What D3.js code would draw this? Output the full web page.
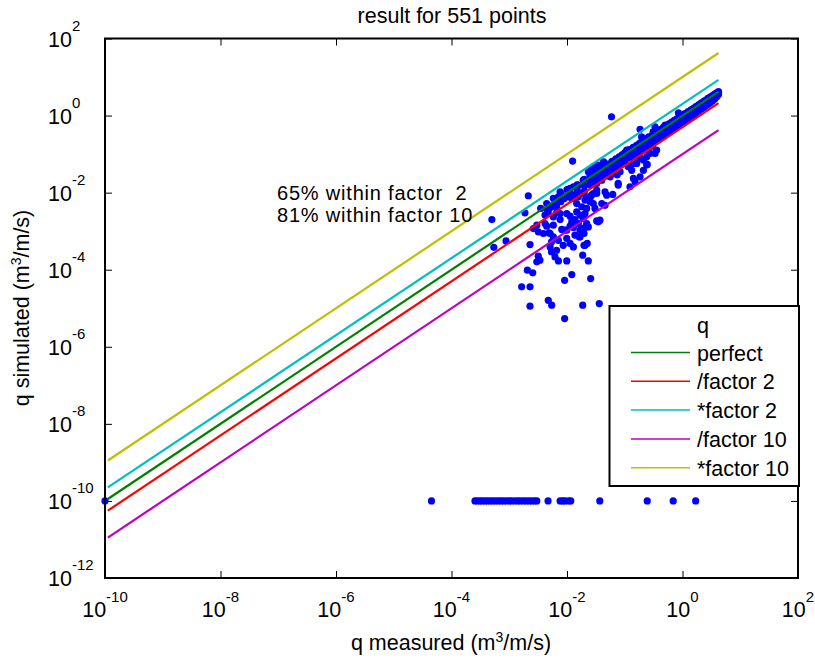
<!DOCTYPE html>
<html><head><meta charset="utf-8">
<script src="https://cdn.jsdelivr.net/npm/d3@7"></script>
<style>
body{margin:0;background:#fff}
svg text{font-family:"Liberation Sans",Arial,sans-serif;fill:#000}
</style>
</head><body>
<svg id="chart" width="815" height="662"></svg>
<script>
// ---------- data ----------
const titleText = "result for 551 points";
const xTicks = [1e-10, 1e-8, 1e-6, 1e-4, 1e-2, 1e0, 1e2];
const xTickExp = ["-10", "-8", "-6", "-4", "-2", "0", "2"];
const yTicks = [1e-12, 1e-10, 1e-8, 1e-6, 1e-4, 1e-2, 1e0, 1e2];
const yTickExp = ["-12", "-10", "-8", "-6", "-4", "-2", "0", "2"];

const seriesNames = ["perfect", "/factor 2", "*factor 2", "/factor 10", "*factor 10"];
const seriesFactors = [1, 0.5, 2, 0.1, 10];
const seriesColors = ["#008000", "#ff0000", "#00bfbf", "#bf00bf", "#bfbf00"];
const lineRange = [1.12e-10, 4.2];

// dense band of points close to the 1:1 line
const bandMeasured = [
 1.0e-2,1.0e-2, 1.2e-2,1.2e-2, 1.5e-2,1.5e-2,1.5e-2, 2.0e-2,2.0e-2,2.0e-2, 2.5e-2,2.5e-2,2.5e-2,
 3.0e-2,3.0e-2,3.0e-2,3.0e-2, 3.5e-2,3.5e-2,3.5e-2, 4.0e-2,4.0e-2,4.0e-2,4.0e-2,
 5.0e-2,5.0e-2,5.0e-2,5.0e-2,5.0e-2, 6.0e-2,6.0e-2,6.0e-2,6.0e-2, 7.0e-2,7.0e-2,7.0e-2,7.0e-2,7.0e-2,
 8.0e-2,8.0e-2,8.0e-2,8.0e-2, 9.0e-2,9.0e-2,9.0e-2,9.0e-2,
 0.10,0.10,0.10,0.10, 0.12,0.12,0.12,0.12, 0.14,0.14,0.14,0.14, 0.16,0.16,0.16,0.16,
 0.18,0.18,0.18,0.18, 0.20,0.20,0.20,0.20, 0.23,0.23,0.23,0.23, 0.26,0.26,0.26,0.26,
 0.30,0.30,0.30,0.30,0.30, 0.34,0.34,0.34,0.34, 0.38,0.38,0.38,0.38, 0.42,0.42,0.42,0.42,
 0.47,0.47,0.47,0.47, 0.52,0.52,0.52,0.52, 0.58,0.58,0.58,0.58, 0.65,0.65,0.65,0.65,
 0.72,0.72,0.72,0.72, 0.80,0.80,0.80,0.80, 0.90,0.90,0.90,0.90,
 1.0,1.0,1.0,1.0, 1.1,1.1,1.1,1.1, 1.25,1.25,1.25,1.25, 1.4,1.4,1.4,1.4, 1.55,1.55,1.55,1.55,
 1.7,1.7,1.7,1.7, 1.9,1.9,1.9,1.9, 2.1,2.1,2.1,2.1, 2.3,2.3,2.3,2.3, 2.5,2.5,2.5,2.5,
 2.75,2.75,2.75,2.75, 3.0,3.0,3.0,3.0, 3.3,3.3,3.3,3.3, 3.6,3.6,3.6,3.6, 3.9,3.9,3.9, 4.2,4.2,4.2,
 5e-3, 6e-3, 7e-3, 8e-3, 9e-3
];
const bandSimulated = [
 8e-3,1.2e-2, 9e-3,7e-3, 1.2e-2,1.6e-2,9e-3, 1.5e-2,2.2e-2,1.1e-2, 2.0e-2,1.6e-2,2.8e-2,
 2.2e-2,3.2e-2,1.7e-2,2.6e-2, 3.0e-2,2.2e-2,4.0e-2, 3.2e-2,2.6e-2,4.4e-2,2.1e-2,
 4.0e-2,3.0e-2,5.5e-2,2.7e-2,4.6e-2, 5.0e-2,4.0e-2,6.5e-2,3.2e-2, 6.0e-2,4.5e-2,7.5e-2,3.8e-2,5.3e-2,
 6.5e-2,5.0e-2,8.5e-2,7.2e-2, 7.5e-2,5.5e-2,9.5e-2,6.5e-2,
 8.5e-2,6.5e-2,0.11,0.075, 0.10,0.08,0.13,0.09, 0.12,0.09,0.15,0.105, 0.13,0.10,0.17,0.14,
 0.15,0.12,0.19,0.10, 0.17,0.13,0.22,0.15, 0.19,0.15,0.25,0.13, 0.22,0.17,0.28,0.20,
 0.25,0.19,0.31,0.22,0.16, 0.29,0.22,0.36,0.25, 0.32,0.25,0.40,0.28, 0.36,0.27,0.44,0.31,
 0.40,0.30,0.50,0.35, 0.45,0.34,0.55,0.39, 0.50,0.38,0.60,0.43, 0.56,0.43,0.68,0.49,
 0.62,0.48,0.75,0.54, 0.70,0.53,0.82,0.60, 0.78,0.60,0.93,0.68,
 0.88,0.68,1.02,0.75, 0.96,0.74,1.12,0.84, 1.1,0.85,1.27,0.95, 1.22,0.95,1.40,1.06, 1.36,1.05,1.55,1.18,
 1.5,1.15,1.7,1.3, 1.68,1.3,1.9,1.45, 1.85,1.45,2.1,1.6, 2.05,1.6,2.3,1.8, 2.25,1.75,2.5,1.95,
 2.5,1.95,2.8,2.2, 2.75,2.15,3.0,2.45, 3.0,2.4,3.3,2.7, 3.3,2.7,3.6,3.1, 3.6,3.1,3.9, 3.9,3.5,4.2,
 4e-3, 5e-3, 6e-3, 9e-3, 7e-3
];

// scattered points away from the band
const spreadMeasured = [
 5.9e-2, 1.25e-2, 2.14e-3, 5.0e-4, 5.4e-4, 8.8e-4, 1.87e-3, 2.29e-3, 3.18e-3, 3.4e-3,
 3.0e-3, 2.06e-3, 2.55e-3, 1.64e-3, 2.29e-3, 2.29e-3, 4.74e-3, 5.43e-3, 9.1e-3, 1.87e-2,
 3.62e-2, 2.57e-2, 1.21e-2, 9.1e-3, 9.9e-3, 7.1e-3, 6.2e-3, 1.87e-2, 2.34e-2, 2.24e-2,
 1.97e-2, 1.68e-2, 8.6e-3, 1.13e-2, 5.1e-3, 5.4e-3, 6.6e-3, 8.1e-3, 9.9e-3, 1.29e-2,
 1.68e-2, 1.97e-2, 3.27e-2, 3.72e-2, 3.9e-3, 4.9e-3, 5.8e-3, 5.4e-3, 4.16e-3, 4.45e-3,
 3.0e-3, 2.61e-3, 3.18e-3, 4.16e-3, 5.8e-3, 6.6e-3, 7.6e-3, 5.4e-3, 4.57e-3, 3.5e-3,
 7.1e-3, 7.8e-3, 1.13e-2, 1.21e-2, 1.37e-2, 1.57e-2, 9.9e-3, 1.13e-2, 1.47e-2, 1.68e-2,
 1.91e-2, 2.05e-2, 1.8e-2, 2.19e-2, 1.47e-2, 2.5e-2, 2.67e-2, 3.27e-2, 2.85e-2, 1.13e-2,
 1.29e-2, 1.57e-2, 1.91e-2, 2.05e-2, 4.0e-2, 4.55e-2, 3.48e-2, 4.86e-2, 2.19e-2, 2.34e-2,
 2.05e-2, 2.34e-2, 2.85e-2, 3.48e-2, 4.26e-2, 4.86e-2, 5.9e-2, 3.72e-2, 5.6e-2, 6.8e-2,
 8.3e-2, 7.7e-2, 9.4e-2, 0.115, 0.141, 0.132, 0.161, 0.184, 0.21, 0.24,
 0.274, 0.334, 0.184, 0.151, 0.123, 1.57e-2, 1.91e-2, 1.29e-2, 1.68e-2, 2.19e-2,
 2.85e-2, 2.5e-2, 3.05e-2, 1.8e-2, 1.37e-2, 1.63e-2, 2.05e-2, 9.1e-3, 9.9e-3, 7.6e-3,
 5.8e-3, 4.74e-3, 5.1e-3, 7.1e-3, 1.29e-2, 1.13e-2, 7.6e-3, 5.8e-3, 4.45e-3, 6.6e-3,
 0.184, 0.196, 0.334, 0.31, 0.357, 0.85, 0.50, 0.61, 0.79, 0.108,
 0.141, 0.141, 0.24, 0.21, 0.245, 4.3e-2, 5.3e-2, 6.4e-2, 6.2e-2, 7.7e-2,
 7.4e-2, 4.55e-2, 3.27e-2, 3.27e-2, 2.67e-2
];
const spreadSimulated = [
 0.93, 6.6e-2, 8.3e-3, 2.0e-3, 3.8e-4, 5.6e-4, 3.0e-3, 4.5e-4, 2.24e-4, 1.77e-4,
 1.6e-4, 9.7e-5, 8.3e-5, 3.6e-5, 3.6e-5, 1.13e-5, 1.61e-5, 1.2e-5, 5.4e-6, 1.2e-5,
 1.32e-5, 5.9e-5, 7.5e-5, 5.3e-5, 1.69e-4, 1.69e-4, 2.15e-4, 2.38e-4, 1.69e-4, 4.8e-4,
 4.3e-4, 7.1e-4, 4.3e-4, 4.8e-4, 3.9e-4, 2.9e-4, 3.2e-4, 1.11e-3, 1.06e-3, 1.25e-3,
 1.06e-3, 8.7e-4, 1.85e-3, 1.93e-3, 8.7e-4, 9.0e-4, 7.1e-4, 5.3e-4, 1.58e-3, 1.35e-3,
 1.43e-3, 1.17e-3, 9.6e-4, 2.61e-3, 2.35e-3, 3.0e-3, 2.0e-3, 4.3e-3, 3.5e-3, 3.9e-3,
 7.8e-3, 5.8e-3, 1.35e-3, 1.75e-3, 2.0e-3, 1.58e-3, 2.88e-3, 2.45e-3, 3.17e-3, 2.61e-3,
 2.14e-3, 2.88e-3, 4.3e-3, 3.9e-3, 5.2e-3, 7.1e-3, 8.6e-3, 9.5e-3, 5.2e-3, 9.5e-3,
 7.1e-3, 7.8e-3, 9.5e-3, 6.4e-3, 5.2e-3, 4.7e-3, 1.75e-3, 8.6e-3, 1.58e-3, 1.29e-3,
 1.25e-3, 3.5e-2, 4.7e-2, 5.2e-2, 5.7e-2, 3.8e-2, 4.3e-2, 3.15e-2, 2.57e-2, 3.15e-2,
 3.5e-2, 1.73e-2, 5.7e-2, 4.7e-2, 7.0e-2, 3.8e-2, 5.7e-2, 7.7e-2, 7.0e-2, 5.2e-2,
 0.104, 0.104, 2.57e-2, 1.91e-2, 1.42e-2, 1.57e-2, 2.11e-2, 1.42e-2, 9.5e-3, 7.8e-3,
 9.5e-3, 5.8e-3, 3.9e-3, 1.17e-3, 7.9e-4, 7.1e-4, 4.3e-4, 1.06e-3, 6.5e-4, 2.88e-3,
 1.43e-3, 3.17e-3, 8.7e-4, 5.8e-4, 3.9e-4, 1.29e-2, 1.05e-2, 7.1e-3, 5.2e-3, 4.3e-3,
 0.44, 0.28, 0.51, 0.38, 0.127, 1.18, 0.57, 0.63, 0.51, 0.127,
 2.34e-2, 5.7e-2, 8.5e-2, 3.8e-2, 5.4e-2, 6.3e-2, 4.5e-2, 5.7e-2, 9.0e-3, 1.57e-2,
 2.9e-2, 1.05e-2, 1.16e-2, 1.73e-2, 4.26e-2
];

// points whose simulated value sits at the floor value
const floorSimulated = 1e-10;
const floorMeasured = [
 1e-10, 4.5e-5,
 2.55e-4, 2.8e-4, 3.1e-4, 3.4e-4, 3.8e-4, 4.2e-4, 4.7e-4, 5.2e-4, 5.8e-4, 6.5e-4, 7.2e-4, 8.0e-4,
 9.0e-4, 1.0e-3, 1.1e-3, 1.25e-3, 1.4e-3, 1.55e-3, 1.75e-3, 1.95e-3, 2.2e-3, 2.45e-3, 2.75e-3, 3.0e-3,
 4.7e-3, 7.6e-3, 8.4e-3, 9.2e-3, 1.06e-2, 1.16e-2, 3.7e-2, 0.245, 0.69, 1.69
];

const annotationLines = ["65% within factor  2", "81% within factor 10"];
const legendTitle = "q";

// ---------- chart ----------
const svg = d3.select("#chart");
const W = 815, H = 662;
const plot = {left: 105, right: 798, top: 38.5, bottom: 578};
svg.append("rect").attr("width", W).attr("height", H).attr("fill", "#fff");

const x = d3.scaleLog().domain([1e-10, 1e2]).range([plot.left, plot.right]);
const y = d3.scaleLog().domain([1e-12, 1e2]).range([plot.bottom, plot.top]);

// axes (ticks inside, both sides)
function styleAxis(g) {
  g.select(".domain").remove();
  g.selectAll(".tick line").attr("stroke", "#000").attr("stroke-width", 1);
}
svg.append("g").attr("transform", `translate(0,${plot.bottom})`)
  .call(d3.axisBottom(x).tickValues(xTicks).tickSizeInner(-7).tickSizeOuter(0).tickFormat(""))
  .call(styleAxis);
svg.append("g").attr("transform", `translate(0,${plot.top})`)
  .call(d3.axisTop(x).tickValues(xTicks).tickSizeInner(-7).tickSizeOuter(0).tickFormat(""))
  .call(styleAxis);
svg.append("g").attr("transform", `translate(${plot.left},0)`)
  .call(d3.axisLeft(y).tickValues(yTicks).tickSizeInner(-7).tickSizeOuter(0).tickFormat(""))
  .call(styleAxis);
svg.append("g").attr("transform", `translate(${plot.right},0)`)
  .call(d3.axisRight(y).tickValues(yTicks).tickSizeInner(-7).tickSizeOuter(0).tickFormat(""))
  .call(styleAxis);

// tick labels 10^n
xTicks.forEach((t, i) => {
  const tx = svg.append("text").attr("x", x(t)).attr("y", plot.bottom + 39)
    .attr("text-anchor", "middle").attr("font-size", 21.5);
  tx.append("tspan").text("10");
  tx.append("tspan").attr("dy", -15).attr("font-size", 15).text(xTickExp[i]);
});
yTicks.forEach((t, i) => {
  const ty = svg.append("text").attr("x", 48).attr("y", y(t) + 8)
    .attr("text-anchor", "start").attr("font-size", 21.5);
  ty.append("tspan").text("10");
  ty.append("tspan").attr("dy", -16).attr("font-size", 15).text(yTickExp[i]);
});

// points
const pts = [];
bandMeasured.forEach((m, i) => pts.push([m, bandSimulated[i]]));
spreadMeasured.forEach((m, i) => pts.push([m, spreadSimulated[i]]));
floorMeasured.forEach(m => pts.push([m, floorSimulated]));
svg.append("g").selectAll("circle").data(pts).join("circle")
  .attr("cx", d => x(d[0])).attr("cy", d => y(d[1])).attr("r", 3.6)
  .attr("fill", "#0000ff");

// reference lines
const line = d3.line().x(d => x(d[0])).y(d => y(d[1]));
seriesFactors.forEach((f, i) => {
  svg.append("path")
    .datum(lineRange.map(v => [v, v * f]))
    .attr("d", line).attr("fill", "none")
    .attr("stroke", seriesColors[i]).attr("stroke-width", 2.2);
});

// frame
svg.append("rect").attr("x", plot.left).attr("y", plot.top)
  .attr("width", plot.right - plot.left).attr("height", plot.bottom - plot.top)
  .attr("fill", "none").attr("stroke", "#000").attr("stroke-width", 2);

// annotation (two lines)
annotationLines.forEach((s, i) => {
  svg.append("text").attr("x", 277).attr("y", 199.5 + i * 22.6)
    .attr("font-size", 20).attr("letter-spacing", 0.8)
    .style("white-space", "pre").text(s);
});

// title & labels
svg.append("text").attr("x", 452).attr("y", 23).attr("text-anchor", "middle")
  .attr("font-size", 21.5).text(titleText);
const xl = svg.append("text").attr("x", 451).attr("y", 650).attr("text-anchor", "middle")
  .attr("font-size", 21.5);
xl.append("tspan").text("q measured (m");
xl.append("tspan").attr("dy", -8).attr("font-size", 14).text("3");
xl.append("tspan").attr("dy", 8).text("/m/s)");
const yl = svg.append("text").attr("transform", "translate(29,308) rotate(-90)")
  .attr("text-anchor", "middle").attr("font-size", 21.5);
yl.append("tspan").text("q simulated (m");
yl.append("tspan").attr("dy", -8).attr("font-size", 14).text("3");
yl.append("tspan").attr("dy", 8).text("/m/s)");

// legend
const lg = svg.append("g");
lg.append("rect").attr("x", 609.5).attr("y", 306).attr("width", 189.5).attr("height", 180)
  .attr("fill", "#fff").attr("stroke", "#000").attr("stroke-width", 2);
lg.append("text").attr("x", 697).attr("y", 333).attr("font-size", 21.5).text(legendTitle);
seriesNames.forEach((n, i) => {
  const ly = 352.5 + i * 28.8;
  lg.append("line").attr("x1", 631).attr("x2", 690).attr("y1", ly).attr("y2", ly)
    .attr("stroke", seriesColors[i]).attr("stroke-width", 1.5);
  lg.append("text").attr("x", 697).attr("y", ly + 8).attr("font-size", 21.5).text(n);
});
</script>
</body></html>
